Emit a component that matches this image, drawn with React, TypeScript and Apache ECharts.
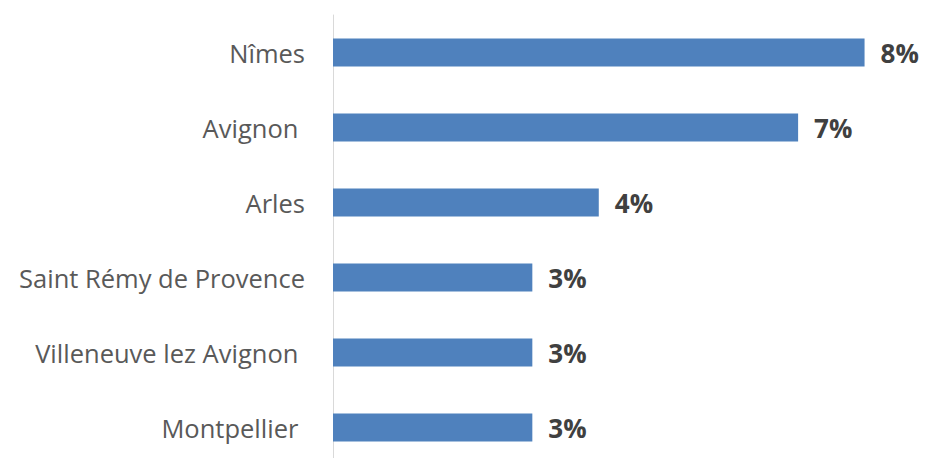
import React, { useEffect, useRef } from "react";
import * as echarts from "echarts";

const categories = [
  "Nîmes",
  "Avignon ",
  "Arles",
  "Saint Rémy de Provence",
  "Villeneuve lez Avignon ",
  "Montpellier ",
];
const values = [8, 7, 4, 3, 3, 3];

export default function App() {
  const ref = useRef<HTMLDivElement>(null);
  useEffect(() => {
    if (!ref.current) return;
    const chart = echarts.init(ref.current, null, { renderer: "svg" });
    chart.setOption({
      animation: false,
      backgroundColor: "#ffffff",
      grid: { left: 333, top: 15, width: 601, height: 450, containLabel: false },
      xAxis: {
        type: "value",
        min: 0,
        max: 9,
        show: false,
      },
      yAxis: {
        type: "category",
        inverse: true,
        data: categories,
        axisLine: { show: true, lineStyle: { color: "#d9d9d9", width: 1 } },
        axisTick: { show: false },
        axisLabel: {
          color: "#595959",
          fontFamily: "Open Sans",
          fontSize: 25.5,
          margin: 28,
        },
      },
      series: [
        {
          type: "bar",
          data: values,
          barWidth: 28,
          itemStyle: { color: "#4f81bd" },
          label: {
            show: true,
            position: "right",
            distance: 16,
            formatter: "{c}%",
            color: "#404040",
            fontFamily: "Open Sans",
            fontWeight: "bold",
            fontSize: 26,
          },
        },
      ],
    });
    return () => chart.dispose();
  }, []);
  return <div ref={ref} style={{ width: 931, height: 470, position: "fixed", left: 0, top: 0 }} />;
}
